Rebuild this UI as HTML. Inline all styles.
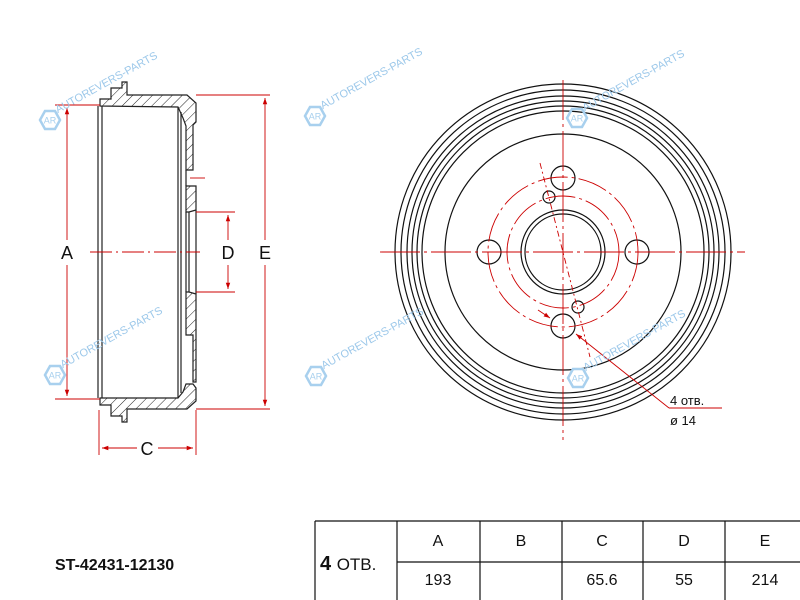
<!DOCTYPE html>
<html><head><meta charset="utf-8"><style>
html,body{margin:0;padding:0;background:#fff;width:800px;height:600px;overflow:hidden;}
svg{display:block;font-family:"Liberation Sans",Arial,sans-serif;overflow:hidden;}
</style></head><body>
<svg width="800" height="600" viewBox="0 0 800 600" xmlns="http://www.w3.org/2000/svg">
<defs>
<pattern id="h" patternUnits="userSpaceOnUse" width="7" height="7" patternTransform="rotate(45)">
<rect width="7" height="7" fill="#fff"/><line x1="0" y1="0" x2="0" y2="7" stroke="#222" stroke-width="1"/>
</pattern>
<marker id="ar" viewBox="0 0 10 10" refX="10" refY="5" markerWidth="7" markerHeight="7" orient="auto-start-reverse"><path d="M0,1.5 L10,5 L0,8.5z" fill="#c00"/></marker>
<g id="wm">
<polygon points="-10,0 -5,-9 5,-9 10,0 5,9 -5,9" fill="none" stroke="#a8d0ee" stroke-width="2.5"/>
<text x="0" y="3.5" font-size="9" fill="#a8d0ee" text-anchor="middle">AR</text>
<text x="10" y="-2" font-size="11" fill="#9cc8ea" transform="rotate(-29)">AUTOREVERS-PARTS</text>
</g>
</defs>

<g stroke="#222" stroke-width="1.2" fill="url(#h)">
<path d="M100,106 L100,99 L111,99 L111,88 L122,88 L122,82 L127,82 L127,95 L187,95 L196,103 L196,122 L193,125 L193,170 L186,170 L186,126 L183,118 L178,107 Z"/>
<path d="M186,186 L196,186 L196,210 L189,212 L186,212 Z"/>
<path d="M186,292 L189,292 L196,294 L196,382 L193,382 L193,335 L186,335 Z"/>
<path d="M100,398 L178,398 L183,392 L186,384 L193,384 L196,388 L196,401 L187,409 L127,409 L127,422 L122,422 L122,416 L111,416 L111,405 L100,405 Z"/>
</g>
<g stroke="#222" stroke-width="1.2" fill="none">
<line x1="98" y1="106" x2="98" y2="398"/><line x1="102" y1="106" x2="102" y2="398"/>
<line x1="178" y1="107" x2="178" y2="398"/><line x1="181" y1="112" x2="181" y2="393"/>
<line x1="186" y1="170" x2="186" y2="186"/><line x1="186" y1="212" x2="186" y2="292"/>
<line x1="189" y1="212" x2="189" y2="292"/>
<line x1="196" y1="210" x2="196" y2="294"/>
</g>
<g stroke="#c00" stroke-width="0.9" fill="none">
<line x1="55" y1="105" x2="100" y2="105"/><line x1="55" y1="399" x2="100" y2="399"/>
<line x1="67" y1="108" x2="67" y2="240" marker-start="url(#ar)"/><line x1="67" y1="265" x2="67" y2="396" marker-end="url(#ar)"/>
<line x1="196" y1="95" x2="270" y2="95"/><line x1="196" y1="409" x2="270" y2="409"/>
<line x1="265" y1="98" x2="265" y2="240" marker-start="url(#ar)"/><line x1="265" y1="265" x2="265" y2="406" marker-end="url(#ar)"/>
<line x1="190" y1="178" x2="205" y2="178"/>
<line x1="196" y1="212" x2="235" y2="212"/><line x1="196" y1="292" x2="235" y2="292"/>
<line x1="228" y1="215" x2="228" y2="240" marker-start="url(#ar)"/><line x1="228" y1="265" x2="228" y2="289" marker-end="url(#ar)"/>
<line x1="99" y1="410" x2="99" y2="455"/><line x1="196" y1="410" x2="196" y2="455"/>
<line x1="102" y1="448" x2="137" y2="448" marker-start="url(#ar)"/><line x1="158" y1="448" x2="193" y2="448" marker-end="url(#ar)"/>
<line x1="90" y1="252" x2="200" y2="252" stroke-dasharray="22,4,2,4"/>
</g>
<g font-size="18" fill="#111" text-anchor="middle">
<text x="67" y="259">A</text><text x="228" y="259">D</text><text x="265" y="259">E</text><text x="147" y="455">C</text>
</g>

<g stroke="#111" stroke-width="1.2" fill="none">
<circle cx="563" cy="252" r="168"/><circle cx="563" cy="252" r="162"/><circle cx="563" cy="252" r="156"/>
<circle cx="563" cy="252" r="151"/><circle cx="563" cy="252" r="146"/><circle cx="563" cy="252" r="141"/>
<circle cx="563" cy="252" r="118"/>
<circle cx="563" cy="252" r="42"/><circle cx="563" cy="252" r="38"/>
<circle cx="563" cy="178" r="12"/><circle cx="563" cy="326" r="12"/>
<circle cx="489" cy="252" r="12"/><circle cx="637" cy="252" r="12"/>
<circle cx="549" cy="197" r="6"/><circle cx="578" cy="307" r="6"/>
</g>
<g stroke="#c00" stroke-width="0.9" fill="none">
<circle cx="563" cy="252" r="75" stroke-dasharray="30,4,3,4"/>
<circle cx="563" cy="252" r="56" stroke-dasharray="30,4,3,4"/>
<line x1="380" y1="252" x2="745" y2="252" stroke-dasharray="40,4,3,4"/>
<line x1="563" y1="80" x2="563" y2="440" stroke-dasharray="40,4,3,4"/>
<line x1="540" y1="163" x2="590" y2="357" stroke-dasharray="6,3,2,3"/>
<line x1="538" y1="310" x2="550" y2="318" marker-end="url(#ar)"/>
<line x1="669" y1="408" x2="576" y2="334" marker-end="url(#ar)"/>
<line x1="669" y1="408" x2="722" y2="408"/>
</g>
<text x="670" y="405" font-size="13" fill="#111">4 отв.</text>
<text x="670" y="425" font-size="13" fill="#111">ø 14</text>

<use href="#wm" x="50" y="120"/>
<use href="#wm" x="315" y="116"/>
<use href="#wm" x="577" y="118"/>
<use href="#wm" x="55" y="375"/>
<use href="#wm" x="316" y="376"/>
<use href="#wm" x="578" y="378"/>

<text x="55" y="570" font-size="16" font-weight="bold" fill="#111">ST-42431-12130</text>

<g stroke="#111" stroke-width="1.2" fill="none">
<line x1="315" y1="521" x2="800" y2="521"/>
<line x1="397" y1="562" x2="800" y2="562"/>
<line x1="315" y1="521" x2="315" y2="600"/>
<line x1="397" y1="521" x2="397" y2="600"/>
<line x1="480" y1="521" x2="480" y2="600"/>
<line x1="562" y1="521" x2="562" y2="600"/>
<line x1="643" y1="521" x2="643" y2="600"/>
<line x1="725" y1="521" x2="725" y2="600"/>
</g>
<text x="320" y="570" font-size="20" font-weight="bold" fill="#111">4 <tspan font-size="17" font-weight="normal">ОТВ.</tspan></text>
<g font-size="16" fill="#111" text-anchor="middle">
<text x="438" y="546">A</text><text x="521" y="546">B</text><text x="602" y="546">C</text><text x="684" y="546">D</text><text x="765" y="546">E</text>
<text x="438" y="585">193</text><text x="602" y="585">65.6</text><text x="684" y="585">55</text><text x="765" y="585">214</text>
</g>
</svg>
</body></html>
